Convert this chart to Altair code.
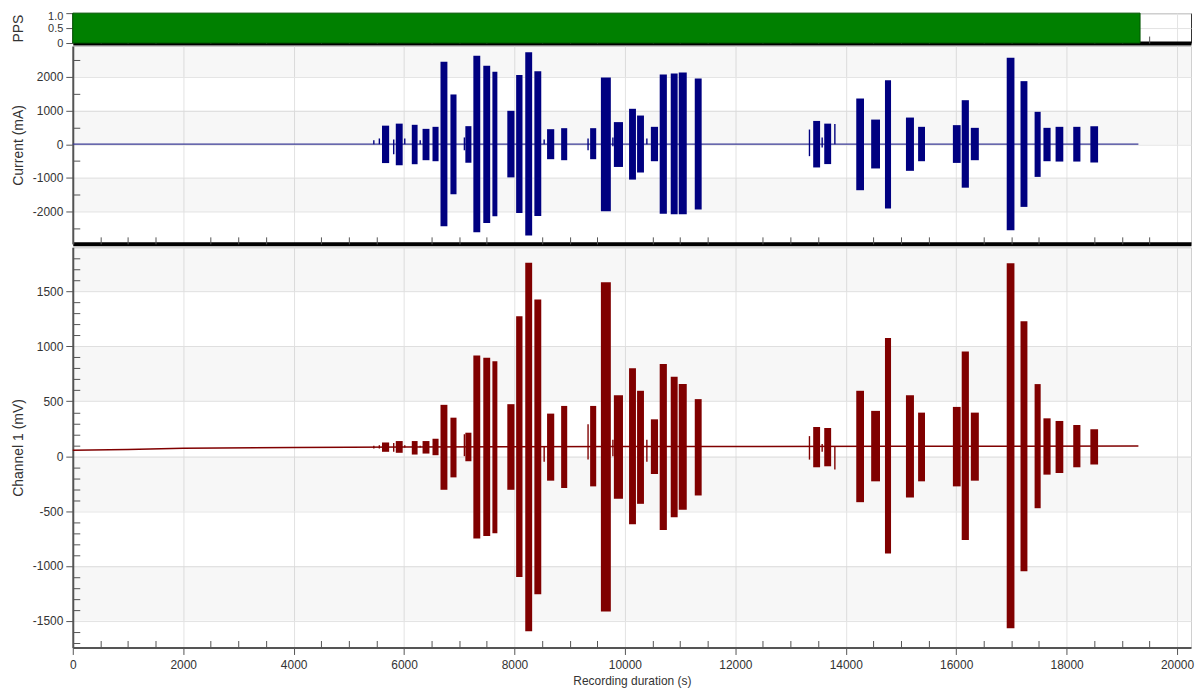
import altair as alt
import pandas as pd

# ---------------- data ----------------
# PPS signal (high level block)
pps_start = [0]
pps_end = [19330]
pps_low = [0]
pps_high = [1]

# stimulation bursts: time span (s), current range (mA), channel-1 range (mV)
burst_start = [5600, 5850, 6140, 6335, 6515, 6660, 6840, 7110, 7255, 7435, 7600, 7870, 8030, 8195, 8360,
               8590, 8845, 9370, 9565, 9800, 10075, 10220, 10470, 10630, 10830, 10975, 11265, 13410, 13610,
               14190, 14460, 14710, 15090, 15310, 15940, 16100, 16265, 16915, 17165, 17420, 17580, 17800,
               18120, 18430]
burst_end = [5730, 5975, 6245, 6460, 6625, 6785, 6950, 7220, 7380, 7560, 7690, 8000, 8145, 8320, 8485,
             8720, 8955, 9480, 9745, 9965, 10200, 10345, 10600, 10760, 10955, 11120, 11390, 13535, 13735,
             14330, 14620, 14820, 15235, 15435, 16080, 16230, 16410, 17055, 17290, 17530, 17710, 17940,
             18250, 18570]
current_high = [550, 610, 575, 455, 515, 2445, 1475, 535, 2625, 2325, 2150, 990, 2050, 2730, 2160,
                445, 475, 475, 1980, 655, 1050, 850, 515, 2070, 2100, 2130, 1950, 690, 610,
                1355, 730, 1900, 790, 515, 565, 1305, 485, 2565, 1870, 960, 485, 515, 515, 535]
current_low = [-560, -625, -594, -475, -505, -2435, -1485, -550, -2615, -2335, -2140, -985, -2040, -2710, -2130,
               -445, -475, -445, -1990, -675, -1050, -840, -505, -2060, -2080, -2080, -1940, -690, -590,
               -1365, -720, -1910, -790, -505, -555, -1290, -475, -2555, -1860, -970, -505, -515, -515, -545]
channel_high = [125, 138, 138, 138, 159, 468, 351, 214, 917, 896, 865, 474, 1275, 1763, 1428,
                388, 458, 458, 1584, 556, 801, 596, 336, 841, 724, 657, 520, 266, 257,
                596, 413, 1076, 556, 397, 449, 954, 397, 1758, 1229, 657, 345, 321, 284, 245]
channel_low = [40, 31, 15, 24, 9, -306, -193, -46, -749, -727, -703, -306, -1100, -1596, -1259,
               -223, -290, -275, -1415, -388, -621, -434, -162, -672, -556, -489, -358, -101, -92,
               -419, -229, -886, -376, -229, -275, -764, -223, -1568, -1048, -474, -168, -153, -101, -76]

# short isolated spikes
spike_time = [5440, 5540, 5800, 6000, 6280, 7080, 8525, 9320, 9770, 10385, 13330, 13560, 13790]
spike_current_high = [120, 170, 140, 170, 120, 200, 140, 170, 200, 170, 435, 200, 600]
spike_current_low = [0, 0, -300, 0, 0, -180, 0, -180, -60, 0, -355, -100, 0]
spike_channel_high = [95, 100, 120, 100, 95, 200, 90, 290, 150, 150, 183, 110, 90]
spike_channel_low = [70, 70, 40, 80, 80, 0, -50, -31, 0, -50, -31, 40, -122]

# baselines
current_base_time = [0, 19300]
current_base = [0, 0]
channel_base_time = [0, 1000, 2000, 4000, 6000, 10000, 15000, 19300]
channel_base = [55, 62, 72, 80, 84, 88, 90, 92]

# axis ticks
x_major = [0, 2000, 4000, 6000, 8000, 10000, 12000, 14000, 16000, 18000, 20000]
x_minor = [v for v in range(500, 20001, 500) if v % 2000]
pps_ticks = [0, 0.5, 1]
current_major = [-2000, -1000, 0, 1000, 2000]
current_minor = [-2500, -1500, -500, 500, 1500, 2500]
channel_major = [-1500, -1000, -500, 0, 500, 1000, 1500]
channel_minor = [v for v in range(-1700, 1801, 100) if v % 500]

# shaded bands (alternate rows)
current_band_low = [2000, 0, -2000]
current_band_high = [2912, 1000, -1000]
channel_band_low = [1500, 500, -500, -1500]
channel_band_high = [1903, 1000, 0, -1000]

# ---------------- styling ----------------
FONT = "Liberation Sans"
GRID = "#e3e3e3"
W = 1122
SPIKE_WIDTH = 25
NAVY = "#000080"
MAROON = "#800000"

pps_df = pd.DataFrame({"start": pps_start, "end": pps_end, "low": pps_low, "high": pps_high})
burst_df = pd.DataFrame({"start": burst_start, "end": burst_end,
                         "cur_hi": current_high, "cur_lo": current_low,
                         "ch_hi": channel_high, "ch_lo": channel_low})
spike_df = pd.DataFrame({"start": spike_time,
                         "cur_hi": spike_current_high, "cur_lo": spike_current_low,
                         "ch_hi": spike_channel_high, "ch_lo": spike_channel_low})
spike_df["end"] = spike_df["start"] + SPIKE_WIDTH
cur_base_df = pd.DataFrame({"t": current_base_time, "v": current_base})
ch_base_df = pd.DataFrame({"t": channel_base_time, "v": channel_base})
cur_band_df = pd.DataFrame({"low": current_band_low, "high": current_band_high})
ch_band_df = pd.DataFrame({"low": channel_band_low, "high": channel_band_high})

xs = alt.Scale(domain=[0, 20253], nice=False, zero=False)
pps_scale = alt.Scale(domain=[0, 1], nice=False, zero=False)
cur_scale = alt.Scale(domain=[-2956, 2912], nice=False, zero=False)
ch_scale = alt.Scale(domain=[-1743, 1903], nice=False, zero=False)


def x_axis_major(bottom):
    if bottom:
        return alt.Axis(values=x_major, grid=True, gridColor=GRID, labels=True, ticks=True,
                        tickSize=7, labelPadding=5, labelFlush=False, format="d",
                        domainColor="#555555", domainWidth=2,
                        title="Recording duration (s)", titleFontSize=12, titlePadding=5)
    return alt.Axis(values=x_major, grid=True, gridColor=GRID, labels=False, ticks=False,
                    domainColor="#000000", domainWidth=4, title=None)


x_axis_minor = alt.Axis(values=x_minor, orient="bottom", offset=-7, tickSize=7, labels=False,
                        domain=False, grid=False, title=None)


def y_axis_major(values, title, label_expr="'' + datum.value", **extra):
    return alt.Axis(values=values, grid=True, gridColor=GRID, tickSize=7, labelPadding=3,
                    minExtent=41, maxExtent=41, title=title, titlePadding=6,
                    domainColor="#555555", domainWidth=2, labelExpr=label_expr, **extra)


def y_axis_minor(values):
    return alt.Axis(values=values, orient="left", offset=-7, tickSize=7, labels=False,
                    domain=False, grid=False, title=None, minExtent=0, maxExtent=0)


# ---------------- PPS panel ----------------
pps_bar = alt.Chart(pps_df).mark_rect(color="#008000", stroke="#005500", strokeWidth=1).encode(
    x=alt.X("start:Q", scale=xs, axis=x_axis_major(False)),
    x2="end:Q",
    y=alt.Y("low:Q", scale=pps_scale,
            axis=y_axis_major(pps_ticks, "PPS",
                              "datum.value == 0 ? '0' : format(datum.value, '.1f')",
                              labelFontSize=11,
                              labelOffset={"condition": {"test": "datum.value == 1", "value": 3},
                                           "value": 0})),
    y2="high:Q",
)
pps_minor = alt.Chart(pps_df).mark_point(opacity=0).encode(
    x=alt.X("start:Q", scale=xs, axis=x_axis_minor),
    y=alt.Y("low:Q", scale=pps_scale, axis=None),
)
pps = alt.layer(pps_bar, pps_minor).resolve_axis(x="independent", y="independent").properties(
    width=W, height=30, view=alt.ViewBackground(stroke="#333333", strokeWidth=1))

# ---------------- Current panel ----------------
cur_bands = alt.Chart(cur_band_df).mark_rect(color="#000000", opacity=0.03).encode(
    y=alt.Y("low:Q", scale=cur_scale, axis=None), y2="high:Q")
cur_line = alt.Chart(cur_base_df).mark_line(color="#3a3a96", strokeWidth=1.3).encode(
    x=alt.X("t:Q", scale=xs, axis=None), y=alt.Y("v:Q", scale=cur_scale, axis=None))
cur_bursts = alt.Chart(burst_df).mark_rect(color=NAVY).encode(
    x=alt.X("start:Q", scale=xs, axis=x_axis_major(False)),
    x2="end:Q",
    y=alt.Y("cur_lo:Q", scale=cur_scale, axis=y_axis_major(current_major, "Current (mA)")),
    y2="cur_hi:Q",
)
cur_spikes = alt.Chart(spike_df).mark_rect(color=NAVY).encode(
    x=alt.X("start:Q", scale=xs, axis=x_axis_minor),
    x2="end:Q",
    y=alt.Y("cur_lo:Q", scale=cur_scale, axis=y_axis_minor(current_minor)),
    y2="cur_hi:Q",
)
cur = alt.layer(cur_bands, cur_line, cur_bursts, cur_spikes).resolve_axis(
    x="independent", y="independent").properties(width=W, height=198.5)

# ---------------- Channel panel ----------------
ch_bands = alt.Chart(ch_band_df).mark_rect(color="#000000", opacity=0.03).encode(
    y=alt.Y("low:Q", scale=ch_scale, axis=None), y2="high:Q")
ch_line = alt.Chart(ch_base_df).mark_line(color=MAROON, strokeWidth=1.5).encode(
    x=alt.X("t:Q", scale=xs, axis=None), y=alt.Y("v:Q", scale=ch_scale, axis=None))
ch_bursts = alt.Chart(burst_df).mark_rect(color=MAROON).encode(
    x=alt.X("start:Q", scale=xs, axis=x_axis_major(True)),
    x2="end:Q",
    y=alt.Y("ch_lo:Q", scale=ch_scale, axis=y_axis_major(channel_major, "Channel 1 (mV)")),
    y2="ch_hi:Q",
)
ch_spikes = alt.Chart(spike_df).mark_rect(color=MAROON).encode(
    x=alt.X("start:Q", scale=xs, axis=x_axis_minor),
    x2="end:Q",
    y=alt.Y("ch_lo:Q", scale=ch_scale, axis=y_axis_minor(channel_minor)),
    y2="ch_hi:Q",
)
ch = alt.layer(ch_bands, ch_line, ch_bursts, ch_spikes).resolve_axis(
    x="independent", y="independent").properties(width=W, height=401.5)

chart = alt.vconcat(pps, cur, ch, spacing=3, bounds="flush").properties(
    padding={"left": 3, "top": 0, "right": 0, "bottom": 0}
).configure_axis(
    labelFont=FONT, titleFont=FONT, labelFontSize=12, titleFontSize=14,
    labelColor="#333333", titleColor="#333333", titleFontWeight="normal",
    tickColor="#555555",
).configure_view(stroke="#d0d0d0")

chart.save("out.html", embed_options={"renderer": "svg", "actions": False})
